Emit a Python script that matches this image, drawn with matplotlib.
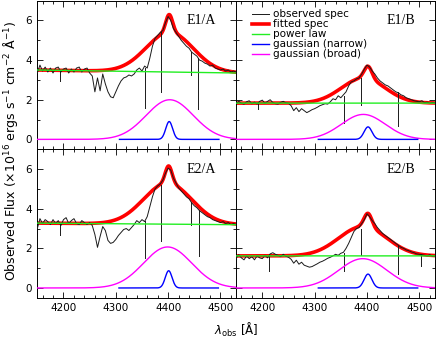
import matplotlib.pyplot as plt
import numpy as np

plt.rcParams.update({
    "font.family": ["DejaVu Sans"],
    "font.size": 7,
    "mathtext.fontset": "dejavusans",
})

# wavelength grid of the observed spectra (Angstrom)
obs_wave = np.arange(4150, 4531, 5)

obs_e1a = [3.35, 3.75, 3.45, 3.65, 3.40, 3.60, 3.35, 3.60, 3.65, 3.40,
           3.55, 3.60, 3.35, 3.55, 3.40, 3.60, 3.65, 3.40, 3.55, 3.60,
           3.35, 3.20, 2.40, 3.10, 2.45, 3.30, 2.80, 2.40, 2.15, 2.10,
           2.40, 2.70, 2.95, 3.10, 3.15, 3.25, 3.20, 3.30, 3.50, 3.60,
           3.45, 3.70, 3.60, 4.10, 4.70, 5.10, 5.25, 5.40, 5.50, 5.90,
           6.20, 6.00, 5.60, 5.40, 5.20, 5.00, 4.85, 4.70, 4.60, 4.40,
           4.30, 4.20, 4.00, 3.95, 3.85, 3.80, 3.70, 3.75, 3.60, 3.55,
           3.50, 3.55, 3.45, 3.50, 3.40, 3.45, 3.40]
obs_e1b = [1.80, 1.92, 1.82, 1.78, 1.90, 1.95, 1.80, 1.88, 1.78, 1.92,
           1.98, 1.82, 1.92, 2.00, 1.86, 1.80, 1.78, 1.87, 1.92, 1.84,
           1.82, 1.70, 1.45, 1.60, 1.40, 1.55, 1.45, 1.35, 1.42, 1.50,
           1.55, 1.62, 1.70, 1.75, 1.80, 1.78, 1.90, 2.05, 2.00, 2.20,
           2.10, 2.25, 2.40, 2.70, 2.90, 2.95, 3.05, 3.10, 3.30, 3.55,
           3.75, 3.65, 3.45, 3.30, 3.10, 2.95, 2.85, 2.75, 2.70, 2.60,
           2.50, 2.40, 2.35, 2.25, 2.20, 2.10, 2.05, 2.00, 1.95, 1.92,
           1.90, 1.95, 1.85, 1.88, 1.82, 1.86, 1.84]
obs_e2a = [3.00, 3.50, 3.25, 3.45, 3.35, 3.20, 3.45, 3.25, 3.40, 3.15,
           3.45, 3.55, 3.25, 3.40, 3.50, 3.25, 3.20, 3.40, 3.30, 3.20,
           3.30, 3.15, 2.70, 2.05, 2.60, 3.10, 2.90, 2.40, 2.25, 2.30,
           2.45, 2.65, 2.80, 2.95, 3.00, 2.90, 3.05, 3.20, 3.40, 3.30,
           3.45, 3.35, 3.60, 4.10, 4.60, 5.00, 5.15, 5.25, 5.45, 5.80,
           6.05, 5.95, 5.55, 5.30, 5.05, 4.90, 4.75, 4.60, 4.50, 4.30,
           4.15, 4.05, 3.90, 3.80, 3.70, 3.60, 3.55, 3.45, 3.40, 3.35,
           3.30, 3.35, 3.25, 3.30, 3.20, 3.25, 3.20]
obs_e2b = [1.50, 1.68, 1.52, 1.42, 1.62, 1.48, 1.58, 1.42, 1.62, 1.52,
           1.48, 1.65, 1.52, 1.72, 1.78, 1.70, 1.65, 1.58, 1.70, 1.60,
           1.55, 1.45, 1.25, 1.40, 1.20, 1.30, 1.15, 1.10, 1.05, 1.08,
           1.15, 1.22, 1.30, 1.35, 1.42, 1.50, 1.55, 1.62, 1.70, 1.65,
           1.75, 1.80, 2.00, 2.25, 2.55, 2.85, 3.00, 3.05, 3.25, 3.45,
           3.75, 3.60, 3.40, 3.25, 3.05, 2.90, 2.75, 2.65, 2.55, 2.45,
           2.35, 2.25, 2.15, 2.05, 2.00, 1.92, 1.88, 1.82, 1.78, 1.72,
           1.70, 1.68, 1.65, 1.62, 1.68, 1.60, 1.62]

# narrow spikes in the observed spectra: wavelength, top, bottom
spikes_e1a = [(4193, 3.50, 2.95), (4355, 3.60, 1.58), (4387, 5.40, 2.40),
              (4444, 4.40, 3.24), (4458, 4.10, 1.55)]
spikes_e1b = [(4191, 1.85, 1.55), (4356, 2.20, 0.85), (4388, 3.10, 1.75),
              (4459, 2.40, 0.70)]
spikes_e2a = [(4193, 3.30, 2.65), (4355, 3.40, 1.50), (4387, 5.20, 2.35),
              (4444, 4.35, 3.20), (4459, 3.95, 1.60)]
spikes_e2b = [(4213, 1.65, 0.88), (4356, 1.75, 0.85), (4388, 3.00, 1.68),
              (4459, 2.15, 0.72), (4503, 1.70, 1.10)]

# power law: flux at 4400 A, index
powerlaw = {"E1/A": (3.40, -0.50), "E1/B": (1.83, 0.0),
            "E2/A": (3.22, -0.28), "E2/B": (1.62, 0.0)}
# gaussians: amplitude, centre, sigma
broad = {"E1/A": (2.00, 4403, 45), "E1/B": (1.26, 4393, 42),
         "E2/A": (2.07, 4399, 46), "E2/B": (1.48, 4392, 46)}
narrow = {"E1/A": (0.90, 4402, 6.5), "E1/B": (0.63, 4402, 7.5),
          "E2/A": (0.87, 4401, 6.5), "E2/B": (0.70, 4402, 7.5)}

panels = ["E1/A", "E1/B", "E2/A", "E2/B"]
obs = {"E1/A": obs_e1a, "E1/B": obs_e1b, "E2/A": obs_e2a, "E2/B": obs_e2b}
spikes = {"E1/A": spikes_e1a, "E1/B": spikes_e1b,
          "E2/A": spikes_e2a, "E2/B": spikes_e2b}

fig, axes = plt.subplots(2, 2, figsize=(4.36, 3.42), dpi=100, sharex=True, sharey=True)
fig.subplots_adjust(left=0.0856, right=0.9977, top=0.998, bottom=0.129, wspace=0, hspace=0)

lam = np.linspace(4150, 4530, 1521)


def gauss(x, p):
    a, c, s = p
    return a * np.exp(-0.5 * ((x - c) / s) ** 2)


for ax, name in zip(axes.flat, panels):
    f0, alpha = powerlaw[name]
    pl = f0 * (lam / 4400.0) ** alpha
    gb = gauss(lam, broad[name])
    gn = gauss(lam, narrow[name])
    fit = pl + gb + gn
    nmask = np.abs(lam - narrow[name][1]) <= 95

    ax.plot(lam, fit, color='red', lw=2.6, label='fitted spec', zorder=2)
    ax.plot(obs_wave, obs[name], color='0.1', lw=0.7, label='observed spec', zorder=3)
    for w, top, bot in spikes[name]:
        ax.plot([w, w], [top, bot], color='0.1', lw=0.7, zorder=3)
    ax.plot(lam, pl, color='#22ee22', lw=1.0, label='power law', zorder=4)
    ax.plot(lam, gb, color='#ff00ff', lw=1.0, label='gaussian (broad)', zorder=4)
    ax.plot(lam[nmask], gn[nmask], color='#0000ff', lw=1.0, label='gaussian (narrow)', zorder=5)

    ax.text(0.90, 0.865, name, transform=ax.transAxes, ha='right', va='center',
            family='Liberation Serif', fontsize=10)

    ax.set_xlim(4150, 4530)
    ax.set_ylim(-0.5, 7)
    ax.set_xticks([4200, 4300, 4400, 4500])
    ax.set_xticks(np.arange(4160, 4531, 20), minor=True)
    ax.set_yticks([0, 2, 4, 6])
    ax.set_yticks([1, 3, 5], minor=True)
    ax.tick_params(which='both', direction='in', top=True, right=True, width=0.6, labelsize=7.5)
    ax.tick_params(which='major', length=4, pad=4)
    ax.tick_params(which='minor', length=2.5)
    for sp in ax.spines.values():
        sp.set_linewidth(0.7)

# legend in the upper right panel
h, l = axes[0, 1].get_legend_handles_labels()
order = [1, 0, 2, 4, 3]
axes[0, 1].legend([h[i] for i in order], [l[i] for i in order], loc='upper left',
                  frameon=False, fontsize=7.5, handlelength=1.6, labelspacing=0.0,
                  borderaxespad=0.0, handletextpad=0.4, bbox_to_anchor=(0.06, 0.97))

fig.text(0.024, 0.56, r'Observed Flux ($\times$10$^{16}$ ergs s$^{-1}$ cm$^{-2}$ $\mathrm{\AA}^{-1}$)',
         rotation=90, ha='center', va='center', fontsize=9)
fig.text(0.541, 0.035, r'$\lambda_{\rm obs}$ [$\mathrm{\AA}$]', ha='center', va='center', fontsize=8.5)

plt.savefig('out.png', dpi=100)
